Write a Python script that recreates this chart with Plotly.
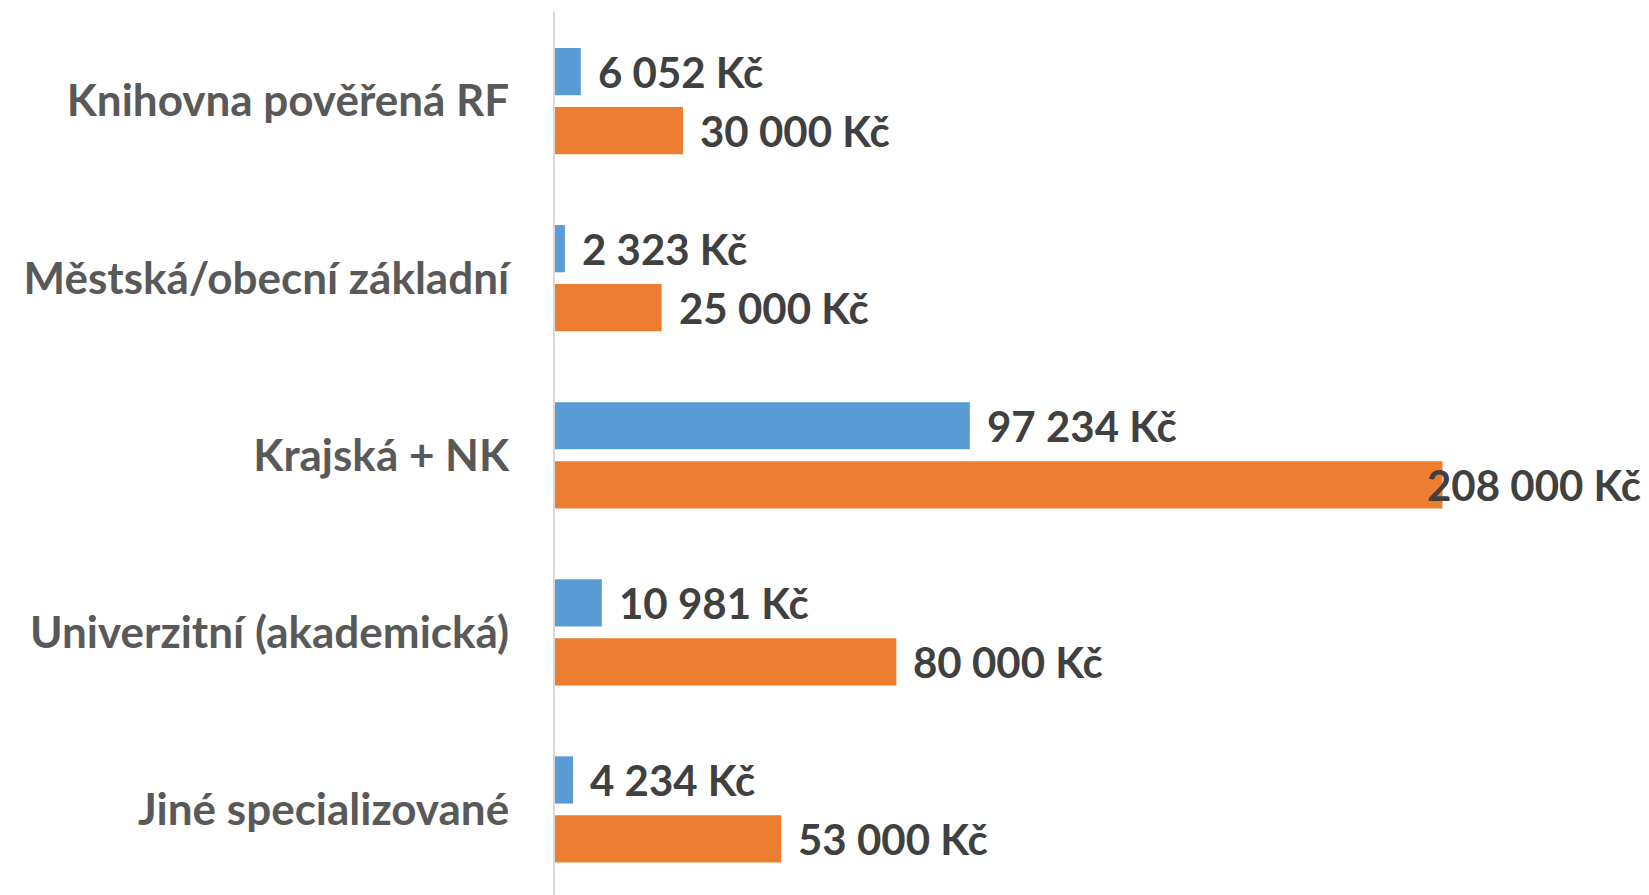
import plotly.graph_objects as go

categories = [
    "Knihovna pověřená RF",
    "Městská/obecní základní",
    "Krajská + NK",
    "Univerzitní (akademická)",
    "Jiné specializované",
]
series_blue = [6052, 2323, 97234, 10981, 4234]
series_orange = [30000, 25000, 208000, 80000, 53000]

BLUE = "#5B9BD5"
ORANGE = "#ED7D31"
FONT = "Lato"

BARGAP = 1 / 3
BARGROUPGAP = 0.2
X_MAX = 256400


def fmt(v):
    return f"{v:,}".replace(",", " ") + " Kč"


fig = go.Figure()
fig.add_trace(go.Bar(y=categories, x=series_blue, orientation="h",
                     marker=dict(color=BLUE, line=dict(width=0)), name="A"))
fig.add_trace(go.Bar(y=categories, x=series_orange, orientation="h",
                     marker=dict(color=ORANGE, line=dict(width=0)), name="B"))

slot = (1 - BARGAP) / 2
annotations = []
for i, cat in enumerate(categories):
    for vals, off in ((series_blue, -slot / 2), (series_orange, slot / 2)):
        v = vals[i]
        ann = dict(y=i + off, yref="y", text=fmt(v), showarrow=False,
                   font=dict(family=FONT, size=42, color="#404040", weight="bold"),
                   yanchor="middle")
        if v > 0.78 * X_MAX:
            ann.update(x=1, xref="paper", xanchor="right", xshift=-6)
        else:
            ann.update(x=v, xref="x", xanchor="left", xshift=15)
        annotations.append(ann)

fig.update_layout(
    width=1649, height=895,
    margin=dict(l=555, r=0, t=12, b=0),
    paper_bgcolor="white", plot_bgcolor="white",
    barmode="group", bargap=BARGAP, bargroupgap=BARGROUPGAP,
    showlegend=False,
    annotations=annotations,
    xaxis=dict(range=[0, X_MAX], visible=False, showgrid=False, zeroline=False),
    yaxis=dict(range=[len(categories) - 0.517, -0.503], showline=True,
               linecolor="#D9D9D9", linewidth=2,
               showgrid=False, zeroline=False, ticks="", ticklabelstandoff=35,
               tickfont=dict(family=FONT, size=44, color="#595959", weight="bold")),
)

fig.write_html("out.html", config={"displayModeBar": False},
               post_script="document.body.style.margin='0';document.body.style.overflow='hidden';")
